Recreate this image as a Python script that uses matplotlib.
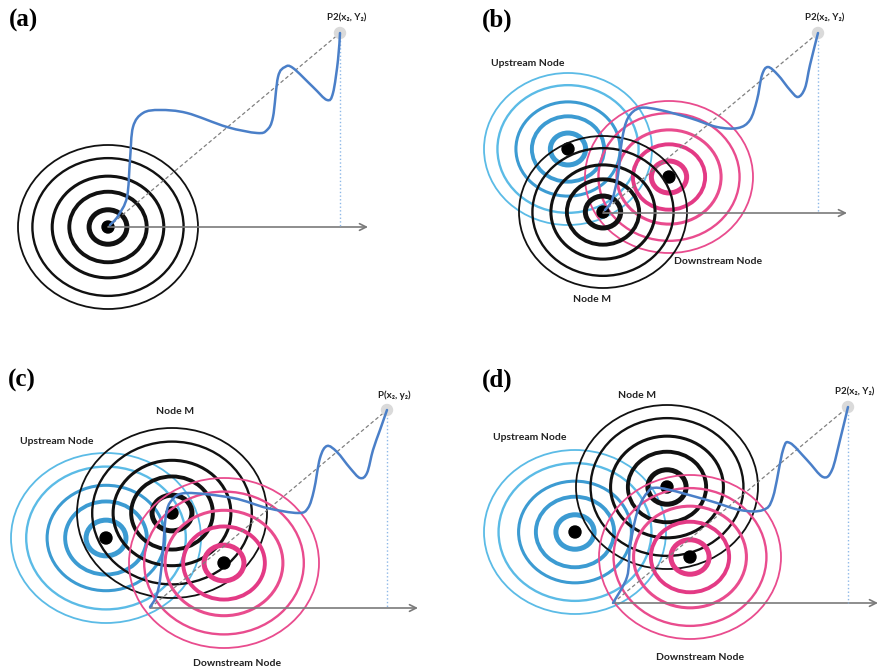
import numpy as np
import matplotlib
matplotlib.use('Agg')
from matplotlib import pyplot as plt
from matplotlib.patches import Ellipse, Circle, PathPatch
from matplotlib.path import Path

# canvas is laid out in pixel units of the 883x671 picture (y down)
W, H = 883, 671

panel_tags = ['(a)', '(b)', '(c)', '(d)']
tag_xy = [(23, 20), (497, 20), (22, 380), (497, 380)]

# node centres per panel: upstream, node M, downstream (None = absent)
upstream_xy = [None, (568, 149), (106, 538), (575, 532)]
node_m_xy = [(108, 227), (603, 212), (172, 513), (667, 487)]
downstream_xy = [None, (669, 177), (224, 563), (690, 557)]
ring_size = [(90, 82), (84, 76), (95, 85), (91, 82)]   # outer ring semi-axes
ring_frac = [1.0, 0.84, 0.62, 0.43, 0.21]
ring_lw = [1.3, 1.7, 2.2, 2.8, 3.6]

# axis arrow: origin, end x
axis_origin = [(108, 227), (603, 213), (150, 608), (613, 603)]
axis_end_x = [368, 847, 418, 878]

# target point P and its label
target_xy = [(340, 33), (818, 33), (387, 410), (848, 407)]
target_label = ['P2(x\u2082, Y\u2082)', 'P2(x\u2082, Y\u2082)',
                'P(x\u2082, y\u2082)', 'P2(x\u2082, Y\u2082)']

# label positions for the node names
up_label_xy = [None, (528, 63), (57, 441), (530, 438)]
m_label_xy = [None, (592, 300), (175, 412), (637, 395)]
down_label_xy = [None, (718, 262), (237, 664), (700, 658)]

# blue route
route_a = [(110, 225), (118, 216), (127, 197), (130, 160), (133, 127), (143, 113),
           (160, 110), (187, 113), (227, 127), (257, 133), (267, 130), (273, 117),
           (278, 77), (285, 67), (293, 68), (313, 87), (327, 100), (333, 93),
           (338, 60), (340, 33)]
route_b = [(605, 210), (612, 200), (618, 175), (622, 140), (628, 118), (640, 108),
           (660, 110), (690, 118), (717, 127), (738, 128), (750, 120), (757, 100),
           (762, 75), (768, 67), (778, 75), (790, 90), (798, 97), (805, 88),
           (810, 65), (818, 33)]
route_c = [(150, 607), (156, 597), (160, 580), (163, 550), (166, 515), (172, 500),
           (187, 493), (233, 498), (267, 508), (298, 513), (308, 508), (314, 490),
           (320, 458), (327, 446), (337, 452), (350, 468), (360, 478), (367, 473),
           (373, 450), (380, 430), (387, 410)]
route_d = [(613, 603), (627, 577), (630, 547), (637, 513), (647, 493), (660, 488),
           (707, 500), (740, 510), (763, 510), (773, 497), (783, 450), (790, 443),
           (807, 460), (823, 477), (832, 470), (840, 440), (848, 407)]
routes = [route_a, route_b, route_c, route_d]

BLACK = '#111111'
BLUE_LIGHT = '#5BBBE6'
BLUE_DARK = '#3C9BD2'
PINK = '#E94C8E'
PINK_DARK = '#E33A85'
ROUTE = '#4A7FC8'
GRAY = '#7A7A7A'

SANS = ['Lato', 'DejaVu Sans']


def smooth_path(pts):
    # catmull-rom points -> cubic bezier path
    p = np.array(pts, dtype=float)
    ext = np.vstack([p[0], p, p[-1]])
    verts = [p[0]]
    codes = [Path.MOVETO]
    for i in range(1, len(ext) - 2):
        c1 = ext[i] + (ext[i + 1] - ext[i - 1]) / 6.0
        c2 = ext[i + 1] - (ext[i + 2] - ext[i]) / 6.0
        verts += [c1, c2, ext[i + 1]]
        codes += [Path.CURVE4] * 3
    return Path(verts, codes)


def rings(ax, xy, size, colors, z):
    for frac, lw, col in zip(ring_frac, ring_lw, colors):
        ax.add_patch(Ellipse(xy, 2 * size[0] * frac, 2 * size[1] * frac,
                             fill=False, ec=col, lw=lw, zorder=z))
    ax.add_patch(Circle(xy, 6, color='black', zorder=z + 0.5))


fig = plt.figure(figsize=(W / 100, H / 100), dpi=100)
ax = fig.add_axes([0, 0, 1, 1])
ax.set_xlim(0, W)
ax.set_ylim(H, 0)
ax.axis('off')

black_cols = [BLACK] * 5
blue_cols = [BLUE_LIGHT, BLUE_LIGHT, BLUE_DARK, BLUE_DARK, BLUE_DARK]
pink_cols = [PINK, PINK, PINK, PINK_DARK, PINK_DARK]

for i in range(4):
    size = ring_size[i]
    if i == 1:
        # (b): black rings sit on top
        rings(ax, upstream_xy[i], size, blue_cols, 2)
        rings(ax, downstream_xy[i], size, pink_cols, 3)
        rings(ax, node_m_xy[i], size, black_cols, 4)
    elif i > 1:
        rings(ax, upstream_xy[i], size, blue_cols, 2)
        rings(ax, node_m_xy[i], size, black_cols, 3)
        rings(ax, downstream_xy[i], size, pink_cols, 4)
    else:
        rings(ax, node_m_xy[i], size, black_cols, 3)

    ox, oy = axis_origin[i]
    tx, ty = target_xy[i]
    ax.annotate('', xy=(axis_end_x[i], oy), xytext=(ox, oy),
                arrowprops=dict(arrowstyle='->', color=GRAY, lw=1.2,
                                mutation_scale=12, shrinkA=0, shrinkB=0),
                zorder=6)
    start = node_m_xy[i] if i < 2 else axis_origin[i]
    ax.plot([start[0], tx], [start[1], ty], color='#808080', lw=0.9,
            ls=(0, (3, 2)), zorder=6)
    ax.plot([tx, tx], [ty, oy], color='#8DB8E8', lw=1.0, ls=':', zorder=6)
    ax.add_patch(PathPatch(smooth_path(routes[i]), fill=False, ec=ROUTE,
                           lw=1.8, zorder=7, capstyle='round'))
    ax.add_patch(Circle((tx, ty), 5.5, color='#DADADA', zorder=6.5))
    ax.text(tx + 7, ty - 15, target_label[i], fontsize=7, fontweight='bold',
            family=SANS, ha='center', va='center', color='#222222', zorder=8)

    ax.text(tag_xy[i][0], tag_xy[i][1], panel_tags[i], fontsize=18,
            fontweight='bold', family='Liberation Serif', ha='center',
            va='center', zorder=8)

    if i > 0:
        for lab, xy in zip(['Upstream Node', 'Node M', 'Downstream Node'],
                           [up_label_xy[i], m_label_xy[i], down_label_xy[i]]):
            ax.text(xy[0], xy[1], lab, fontsize=7.5, fontweight='bold',
                    family=SANS, ha='center', va='center', color='#222222',
                    zorder=8)

fig.savefig('out.png', dpi=100)
